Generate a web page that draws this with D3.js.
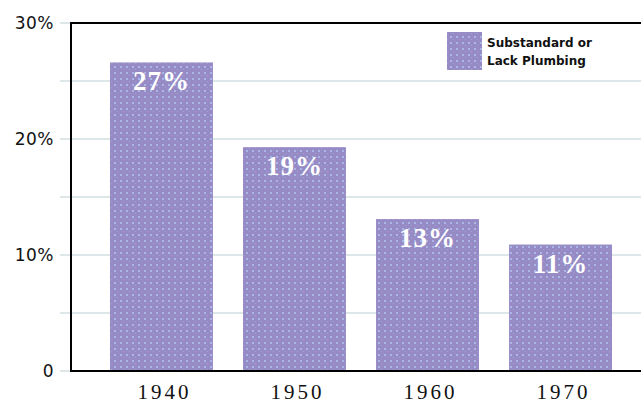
<!DOCTYPE html>
<html><head><meta charset="utf-8">
<script src="https://cdn.jsdelivr.net/npm/d3@7"></script>
<style>body{margin:0;background:#fff}svg{display:block}</style>
</head><body>
<script>
const categories = ["1940", "1950", "1960", "1970"];
const values = [26.6, 19.3, 13.1, 10.9];
const valueLabels = ["27%", "19%", "13%", "11%"];
const yTicks = [0, 10, 20, 30];
const yTickLabels = ["0", "10%", "20%", "30%"];
const gridValues = [5, 10, 15, 20, 25];
const legendLines = ["Substandard or", "Lack Plumbing"];

const W = 641, H = 405;
const svg = d3.select("body").append("svg").attr("width", W).attr("height", H);

const defs = svg.append("defs");
const pat = defs.append("pattern").attr("id", "dots").attr("patternUnits", "userSpaceOnUse")
  .attr("width", 6).attr("height", 6);
pat.append("rect").attr("width", 6).attr("height", 6).attr("fill", "#978bc5");
pat.append("rect").attr("x", 0).attr("y", 0).attr("width", 2).attr("height", 2).attr("fill", "#aab6e4");
pat.append("rect").attr("x", 3).attr("y", 3).attr("width", 1).attr("height", 1).attr("fill", "#a69ed2");

const x = d3.scaleBand().domain(categories).range([71, 651]).paddingInner(0.226).paddingOuter(0.293);
const y = d3.scaleLinear().domain([0, 30]).range([371, 23]);

// gridlines
svg.append("g").selectAll("line").data(gridValues).join("line")
  .attr("x1", 60).attr("x2", W).attr("y1", d => y(d)).attr("y2", d => y(d))
  .attr("stroke", "#dde6e8").attr("stroke-width", 2);
svg.append("g").selectAll("line").data([0, 30]).join("line")
  .attr("x1", 60).attr("x2", 71).attr("y1", d => y(d)).attr("y2", d => y(d))
  .attr("stroke", "#dde6e8").attr("stroke-width", 2);

// bars
svg.append("g").selectAll("rect").data(values).join("rect")
  .attr("x", (d, i) => x(categories[i])).attr("width", x.bandwidth())
  .attr("y", d => y(d)).attr("height", d => y(0) - y(d))
  .attr("fill", "url(#dots)");

// value labels
svg.append("g").selectAll("text").data(values).join("text")
  .attr("x", (d, i) => x(categories[i]) + x.bandwidth() / 2)
  .attr("y", d => y(d) + 28)
  .attr("text-anchor", "middle").attr("fill", "#fff")
  .attr("font-family", "Liberation Serif, serif").attr("font-weight", "bold")
  .attr("font-size", 27).attr("letter-spacing", 1)
  .text((d, i) => valueLabels[i]);

// frame lines
svg.append("line").attr("x1", 71).attr("x2", W).attr("y1", y(30)).attr("y2", y(30)).attr("stroke", "#000").attr("stroke-width", 2);
svg.append("line").attr("x1", 71).attr("x2", W).attr("y1", y(0)).attr("y2", y(0)).attr("stroke", "#000").attr("stroke-width", 2);
svg.append("line").attr("x1", 71).attr("x2", 71).attr("y1", y(30) - 1).attr("y2", y(0) + 1).attr("stroke", "#000").attr("stroke-width", 2);

// y axis labels
svg.append("g").selectAll("text").data(yTicks).join("text")
  .attr("x", 54).attr("y", d => y(d) + 6)
  .attr("text-anchor", "end").attr("font-family", "DejaVu Sans, sans-serif").attr("font-size", 17)
  .attr("letter-spacing", 0.5).attr("fill", "#111")
  .text((d, i) => yTickLabels[i]);

// x labels
svg.append("g").selectAll("text").data(categories).join("text")
  .attr("x", d => x(d) + x.bandwidth() / 2 + 3).attr("y", 399)
  .attr("text-anchor", "middle").attr("font-family", "Liberation Serif, serif").attr("font-size", 21)
  .attr("letter-spacing", 3).attr("fill", "#111")
  .text(d => d);

// legend
svg.append("rect").attr("x", 447).attr("y", 32).attr("width", 35).attr("height", 38).attr("fill", "url(#dots)");
svg.append("g").selectAll("text").data(legendLines).join("text")
  .attr("x", 487).attr("y", (d, i) => 47 + i * 18)
  .attr("font-family", "DejaVu Sans, sans-serif").attr("font-size", 12).attr("font-weight", "bold")
  .attr("fill", "#111")
  .text(d => d);
</script>
</body></html>
